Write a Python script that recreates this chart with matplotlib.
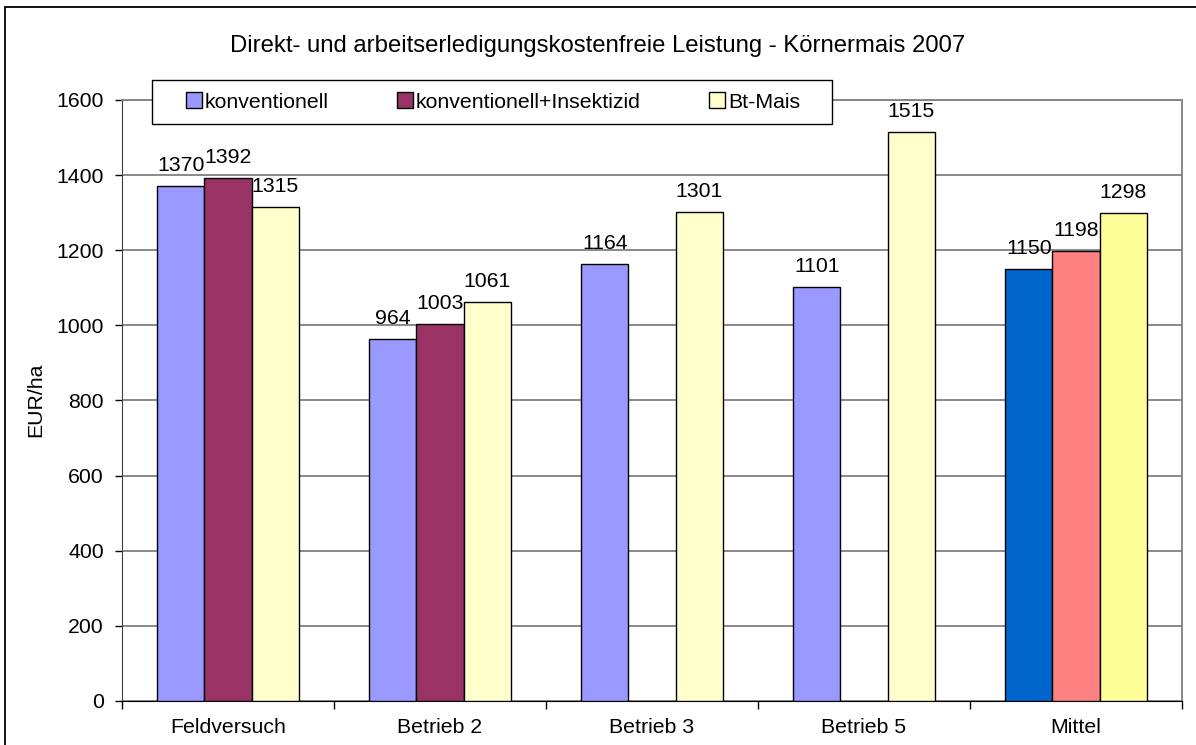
import numpy as np
import matplotlib.pyplot as plt
from matplotlib.patches import Rectangle, Patch

plt.rcParams['font.family'] = ['Liberation Sans', 'DejaVu Sans']

kategorien = ['Feldversuch', 'Betrieb 2', 'Betrieb 3', 'Betrieb 5', 'Mittel']
konventionell = [1370, 964, 1164, 1101, 1150]
insektizid = [1392, 1003, np.nan, np.nan, 1198]
bt_mais = [1315, 1061, 1301, 1515, 1298]
serien = ['konventionell', 'konventionell+Insektizid', 'Bt-Mais']

# Farben: Betriebe hell, Mittelwerte kräftig
farben_konv = ['#9999FF'] * 4 + ['#0066CC']
farben_ins = ['#993366'] * 4 + ['#FF8080']
farben_bt = ['#FFFFCC'] * 4 + ['#FFFF99']

fs = 15.3
W, H = 1196, 745
fig = plt.figure(figsize=(W / 100, H / 100), dpi=100)
ax = fig.add_axes([122 / W, 44 / H, 1060 / W, 601 / H])

# Rahmen um die ganze Grafik
fig.patches.append(Rectangle((5 / W, -0.05), 1.2, 1.05 - 7 / H, transform=fig.transFigure,
                             fill=False, edgecolor='black', linewidth=1.3))

x = np.arange(len(kategorien))
b = 0.222
for i, (werte, farben) in enumerate([(konventionell, farben_konv),
                                      (insektizid, farben_ins),
                                      (bt_mais, farben_bt)]):
    pos = x + (i - 1) * b
    ax.bar(pos, werte, width=b, color=farben, edgecolor='black', linewidth=1.0, zorder=3)
    for p, v in zip(pos, werte):
        if not np.isnan(v):
            ax.annotate(f'{v:.0f}', (p, v), xytext=(0, 8), textcoords='offset points',
                        ha='center', va='bottom', fontsize=fs)

ax.set_xlim(-0.5, 4.5)
ax.set_ylim(0, 1600)
ax.set_yticks(np.arange(0, 1601, 200))
ax.tick_params(axis='y', labelsize=fs, length=5, width=1, direction='out', pad=8)
ax.set_xticks(x)
ax.set_xticklabels(kategorien, fontsize=fs)
ax.tick_params(axis='x', length=0, pad=12)
ax.set_xticks(np.arange(-0.5, 5, 1), minor=True)
ax.tick_params(axis='x', which='minor', length=6, width=1, direction='out')
ax.grid(axis='y', color='#808080', linewidth=1.3, zorder=0)
ax.set_axisbelow(True)
for s in ['top', 'right']:
    ax.spines[s].set_color('#808080')
    ax.spines[s].set_linewidth(1.3)
ax.spines['left'].set_color('#404040')
ax.spines['bottom'].set_color('black')

fig.text(598 / W, 1 - 46 / H, 'Direkt- und arbeitserledigungskostenfreie Leistung - Körnermais 2007',
         ha='center', va='center', fontsize=17.2)
fig.text(36 / W, 1 - 400 / H, 'EUR/ha', rotation=90, ha='center', va='center', fontsize=fs)

# Legendenkasten
fig.add_artist(Rectangle((152 / W, 1 - 124 / H), 680 / W, 44 / H, transform=fig.transFigure,
                         facecolor='white', edgecolor='black', linewidth=1.0, zorder=4))
handles = [Patch(facecolor=c, edgecolor='black') for c in ['#9999FF', '#993366', '#FFFFCC']]
leg = fig.legend(handles, serien, loc='center', bbox_to_anchor=(493 / W, 1 - 102 / H), ncol=3,
                 fontsize=fs, frameon=False, handlelength=0.75, handleheight=0.75,
                 handletextpad=0.15, columnspacing=3.2, borderpad=0, borderaxespad=0)
leg.set_zorder(5)

fig.savefig('out.png', dpi=100)
